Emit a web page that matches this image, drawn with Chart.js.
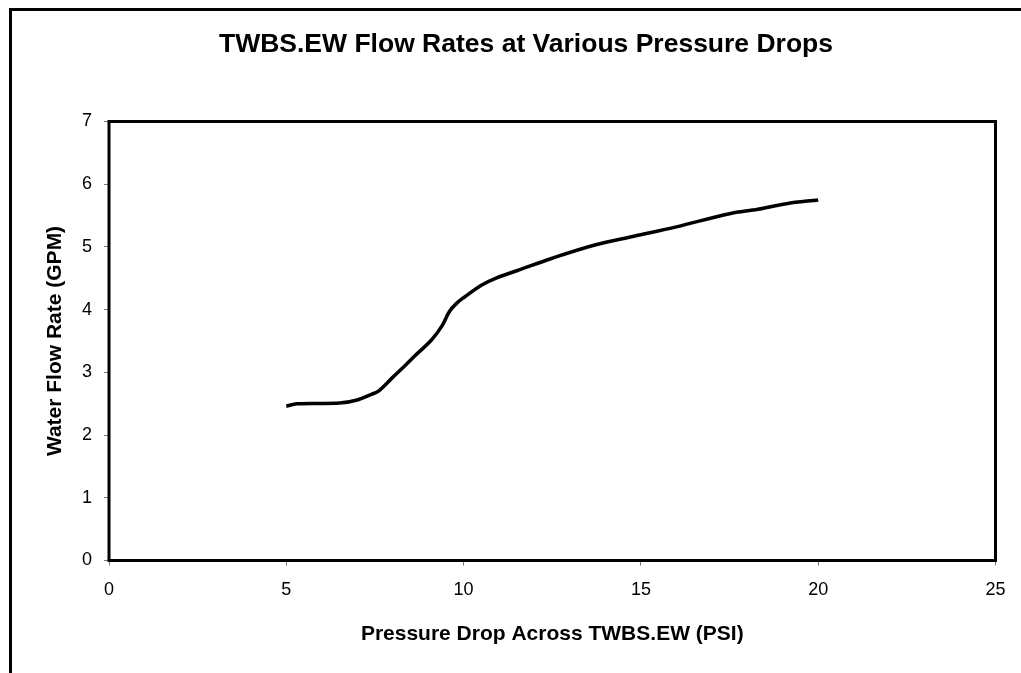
<!DOCTYPE html>
<html>
<head>
<meta charset="utf-8">
<title>TWBS.EW Flow Rates</title>
<script src="https://cdn.jsdelivr.net/npm/chart.js@4.4.0/dist/chart.umd.min.js"></script>
<style>
  html, body { margin: 0; padding: 0; background: #fff; overflow: hidden; }
  #wrap { width: 1021px; height: 673px; position: relative; }
</style>
</head>
<body>
<div id="wrap"><canvas id="chart"></canvas></div>
<script>
// Pressure drop (PSI) and flow rate (GPM)
const pressureDrop = [5, 5.3, 6.5, 7, 7.4, 7.6, 8, 8.3, 8.6, 9.1, 9.4, 9.6, 9.8, 10, 10.5, 10.9, 11.5, 12.5, 13.7, 14.8, 16, 17.5, 18.3, 19.1, 20];
const flowRate = [2.46, 2.5, 2.51, 2.56, 2.65, 2.7, 2.92, 3.08, 3.25, 3.52, 3.75, 3.97, 4.1, 4.19, 4.39, 4.5, 4.62, 4.82, 5.03, 5.17, 5.32, 5.53, 5.6, 5.69, 5.75];
const xTicks = [0, 5, 10, 15, 20, 25];
const yTicks = [0, 1, 2, 3, 4, 5, 6, 7];

const FONT = '"Liberation Sans", Arial, sans-serif';

// outer chart border (clipped at right/bottom) + thick plot frame
const framePlugin = {
  id: 'frames',
  beforeDraw(chart) {
    const ctx = chart.ctx;
    ctx.save();
    ctx.fillStyle = '#fff';
    ctx.fillRect(0, 0, chart.width, chart.height);
    ctx.strokeStyle = '#000';
    ctx.lineWidth = 3;
    ctx.strokeRect(10.5, 9.5, 1200, 900);
    ctx.restore();
  },
  afterDraw(chart) {
    const { left, top, right, bottom } = chart.chartArea;
    const ctx = chart.ctx;
    ctx.save();
    ctx.strokeStyle = '#000';
    ctx.lineWidth = 3;
    ctx.strokeRect(left, top, right - left, bottom - top);
    ctx.restore();
  }
};

const ctx = document.getElementById('chart');
new Chart(ctx, {
  type: 'line',
  data: {
    datasets: [{
      data: pressureDrop.map((x, i) => ({ x: x, y: flowRate[i] })),
      borderColor: '#000',
      borderWidth: 3.5,
      pointRadius: 0,
      fill: false,
      tension: 0.35
    }]
  },
  options: {
    responsive: true,
    maintainAspectRatio: false,
    animation: false,
    layout: { padding: { left: 31, right: 0, top: 0, bottom: 0 } },
    plugins: {
      legend: { display: false },
      tooltip: { enabled: false },
      title: {
        display: true,
        text: 'TWBS.EW Flow Rates at Various Pressure Drops',
        color: '#000',
        font: { family: FONT, size: 26.5, weight: 'bold' },
        padding: { top: 29, bottom: 60.7 }
      }
    },
    scales: {
      x: {
        type: 'linear',
        min: 0,
        max: 25,
        afterBuildTicks: (scale) => { scale.ticks = xTicks.map(v => ({ value: v })); },
        afterFit: (scale) => { scale.height = 112.5; },
        border: { display: false },
        grid: { drawOnChartArea: false, drawTicks: true, tickLength: 5, color: '#777', lineWidth: 1 },
        ticks: { color: '#000', font: { family: FONT, size: 18 }, padding: 14, maxRotation: 0 },
        title: {
          display: true,
          text: 'Pressure Drop Across TWBS.EW (PSI)',
          color: '#000',
          font: { family: FONT, size: 21, weight: 'bold' },
          padding: { top: 0, bottom: 26.4 }
        }
      },
      y: {
        min: 0,
        max: 7,
        afterBuildTicks: (scale) => { scale.ticks = yTicks.map(v => ({ value: v })); },
        afterFit: (scale) => { scale.width = 78; },
        border: { display: false },
        grid: { drawOnChartArea: false, drawTicks: true, tickLength: 5, color: '#777', lineWidth: 1 },
        ticks: { color: '#000', font: { family: FONT, size: 18 }, padding: 12 },
        title: {
          display: true,
          text: 'Water Flow Rate (GPM)',
          color: '#000',
          font: { family: FONT, size: 21, weight: 'bold' },
          padding: { top: 11.4, bottom: 0 }
        }
      },
      // empty right-hand box so the plot ends where the original does
      spacer: {
        type: 'linear',
        position: 'right',
        display: true,
        afterFit: (scale) => { scale.width = 25.5; },
        border: { display: false },
        grid: { display: false },
        ticks: { display: false }
      }
    }
  },
  plugins: [framePlugin]
});
</script>
</body>
</html>
